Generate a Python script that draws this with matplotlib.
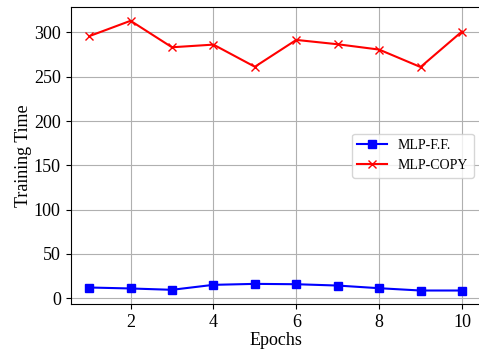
import matplotlib
matplotlib.use("Agg")
import matplotlib.pyplot as plt

plt.rcParams['font.family'] = ['Liberation Serif', 'DejaVu Serif']

epochs = [1, 2, 3, 4, 5, 6, 7, 8, 9, 10]
mlp_ff = [12.1, 11.0, 9.5, 15.1, 16.2, 15.8, 14.3, 11.3, 8.7, 8.7]
mlp_copy = [295.8, 313.2, 283.3, 286.3, 261.3, 291.6, 286.7, 280.7, 261.0, 301.1]

fig = plt.figure(figsize=(4.79, 3.49), dpi=100)
ax = fig.add_axes([70.5 / 479, 1 - 304 / 349, (480.6 - 70.5) / 479, (304 - 7.3) / 349])

ax.plot(epochs, mlp_ff, color='blue', marker='s', markersize=6, label='MLP-F.F.')
ax.plot(epochs, mlp_copy, color='red', marker='x', markersize=6, label='MLP-COPY')

ax.set_xlabel('Epochs', fontsize=13, labelpad=1)
ax.set_ylabel('Training Time', fontsize=13, labelpad=1)
ax.tick_params(labelsize=13)
ax.set_xticks([2, 4, 6, 8, 10])
ax.set_yticks([0, 50, 100, 150, 200, 250, 300])
ax.grid(True)
ax.legend(loc='center right', fontsize=10, handlelength=2.1)

fig.savefig('out.png', dpi=100)
